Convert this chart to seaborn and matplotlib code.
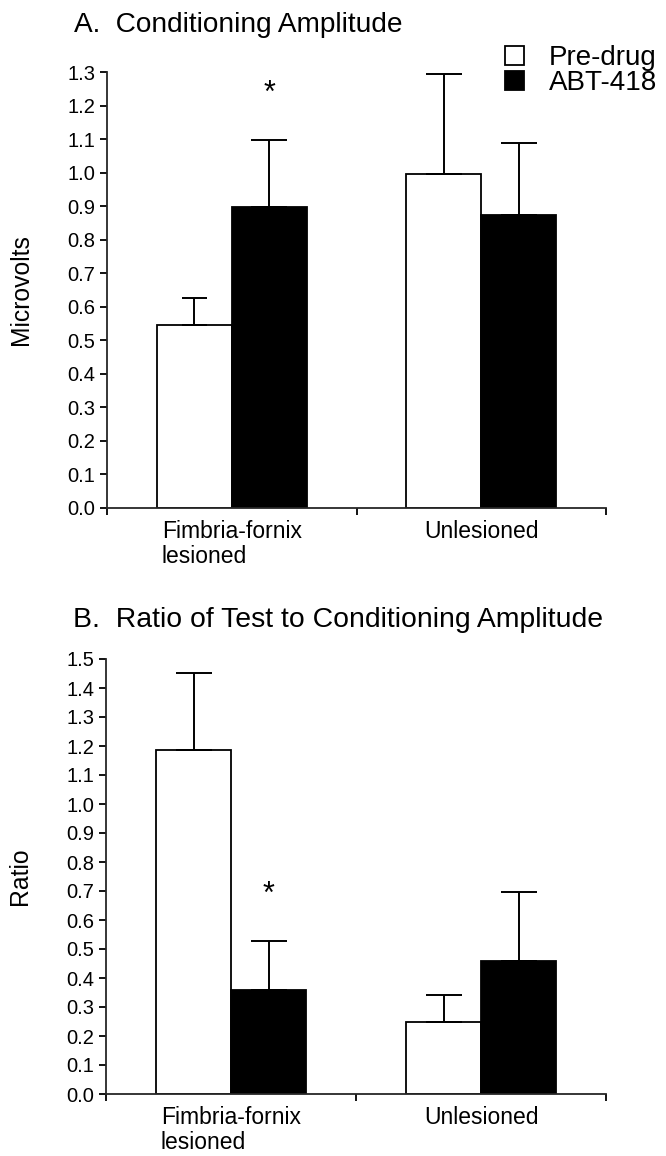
import matplotlib
matplotlib.use("Agg")
import matplotlib.pyplot as plt
import matplotlib.patches as mpatches
import numpy as np
import pandas as pd
import seaborn as sns

# ---------------- data ----------------
groups = ["Fimbria-fornix\nlesioned", "Unlesioned"]
conditions = ["Pre-drug", "ABT-418"]

amp_pre = [0.545, 0.995]
amp_pre_sem = [0.080, 0.300]
amp_abt = [0.897, 0.875]
amp_abt_sem = [0.200, 0.215]

ratio_pre = [1.185, 0.247]
ratio_pre_sem = [0.267, 0.093]
ratio_abt = [0.359, 0.460]
ratio_abt_sem = [0.167, 0.235]

amp_yticks = [round(0.1 * i, 1) for i in range(14)]
ratio_yticks = [round(0.1 * i, 1) for i in range(16)]

# significance markers (group index, condition index, y position)
amp_star = (0, 1, 1.235)
ratio_star = (0, 1, 0.685)

title_a = "A.  Conditioning Amplitude"
title_b = "B.  Ratio of Test to Conditioning Amplitude"
ylabel_a = "Microvolts"
ylabel_b = "Ratio"

# ---------------- style ----------------
sns.set_theme(style="ticks")
plt.rcParams["font.family"] = ["Liberation Sans", "DejaVu Sans"]
plt.rcParams["axes.linewidth"] = 1.3
plt.rcParams["text.color"] = "black"
plt.rcParams["axes.labelcolor"] = "black"
plt.rcParams["xtick.color"] = "black"
plt.rcParams["ytick.color"] = "black"

palette = {"Pre-drug": "white", "ABT-418": "black"}

fig = plt.figure(figsize=(6.66, 11.56), dpi=100)
ax_a = fig.add_axes([107 / 666, 648.3 / 1156, 499 / 666, 435.4 / 1156])
ax_b = fig.add_axes([106 / 666, 62 / 1156, 500 / 666, 435 / 1156])


def make_df(pre, abt):
    rows = []
    for g, v in zip(groups, pre):
        rows.append({"group": g, "condition": conditions[0], "value": v})
    for g, v in zip(groups, abt):
        rows.append({"group": g, "condition": conditions[1], "value": v})
    return pd.DataFrame(rows)


def draw_panel(ax, pre, pre_sem, abt, abt_sem, yticks, ylabel, star, caps):
    df = make_df(pre, abt)
    sns.barplot(data=df, x="group", y="value", hue="condition",
                order=groups, hue_order=conditions, palette=palette,
                edgecolor="black", linewidth=1.3, width=0.6,
                errorbar=None, legend=False, ax=ax)
    bar_containers = list(ax.containers)
    sems = [pre_sem, abt_sem]
    for ci, cont in enumerate(bar_containers):
        for gi, bar in enumerate(cont.patches):
            x = bar.get_x() + bar.get_width() / 2
            h = bar.get_height()
            ax.errorbar([x], [h], yerr=[[0], [sems[ci][gi]]], fmt="none",
                        ecolor="black", elinewidth=1.4,
                        capsize=caps[ci][gi], capthick=1.4, zorder=1)
    # significance star
    gi, ci, ys = star
    bar = bar_containers[ci].patches[gi]
    ax.text(bar.get_x() + bar.get_width() / 2, ys, "*", ha="center",
            va="center", fontsize=22, color="black")

    ax.set_xlim(-0.5, 1.5)
    ax.set_ylim(0, yticks[-1])
    ax.set_yticks(yticks)
    ax.set_yticklabels([f"{t:.1f}" for t in yticks])
    ax.set_xticks(range(len(groups)))
    ax.set_xticklabels(groups, multialignment="left", linespacing=1.08)
    ax.set_xticks([-0.5, 0.5, 1.5], minor=True)
    ax.tick_params(axis="x", which="major", length=0, pad=9, labelsize=16.5)
    ax.tick_params(axis="x", which="minor", length=5, width=1.3,
                   direction="out")
    ax.tick_params(axis="y", which="major", length=5, width=1.3,
                   direction="out", pad=3.5, labelsize=14.5)
    ax.set_xlabel("")
    ax.set_ylabel(ylabel, fontsize=17.8)
    ax.yaxis.set_label_coords(-0.148, 0.5)
    sns.despine(ax=ax)


draw_panel(ax_a, amp_pre, amp_pre_sem, amp_abt, amp_abt_sem, amp_yticks,
           ylabel_a, amp_star, [[9, 13], [13, 13]])
draw_panel(ax_b, ratio_pre, ratio_pre_sem, ratio_abt, ratio_abt_sem,
           ratio_yticks, ylabel_b, ratio_star, [[13, 13], [13, 13]])

fig.text(74 / 666, 1 - 32 / 1156, title_a, fontsize=20.2, va="baseline",
         ha="left")
fig.text(73 / 666, 1 - 627 / 1156, title_b, fontsize=20.4, va="baseline",
         ha="left")

handles = [mpatches.Patch(facecolor=palette[c], edgecolor="black",
                          linewidth=1.3, label=c) for c in conditions]
ax_a.legend(handles=handles, loc="upper left",
            bbox_to_anchor=(505 / 666, 1 - 45 / 1156),
            bbox_transform=fig.transFigure, frameon=False, borderpad=0,
            borderaxespad=0, fontsize=20, handlelength=0.68,
            handleheight=0.68, handletextpad=0.9, labelspacing=-0.03)

fig.savefig("out.png", dpi=100, facecolor="white")
